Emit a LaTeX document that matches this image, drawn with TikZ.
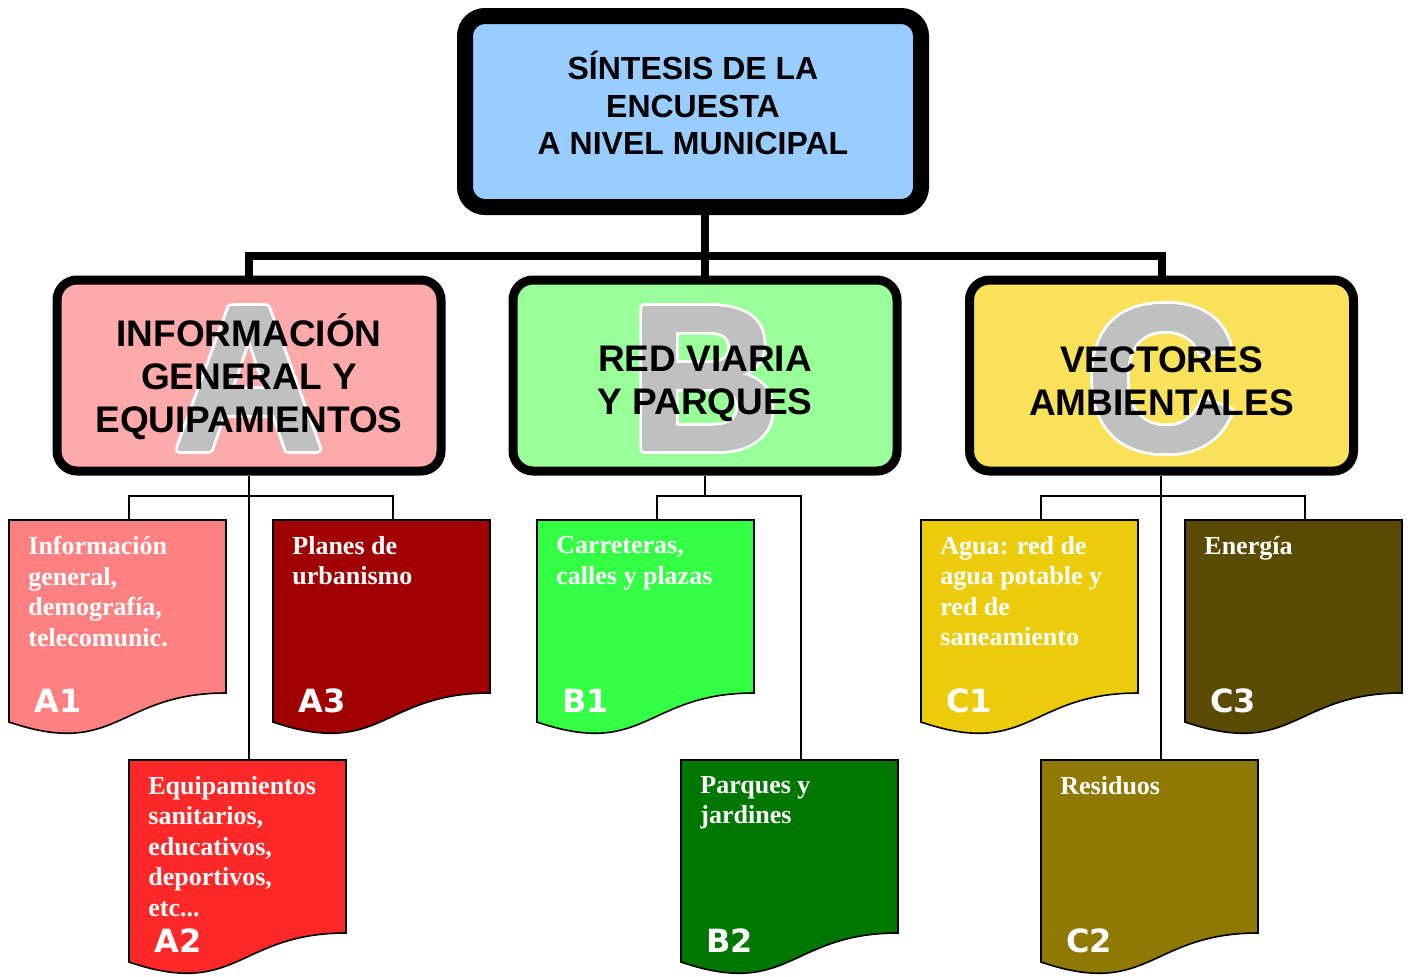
\documentclass[tikz,border=0pt]{standalone}
\usepackage{fontspec}
\setmainfont{Liberation Serif}
\newfontfamily\arialfont{Liberation Sans}
\newfontfamily\blackfont{DejaVu Sans}
\usepackage{contour}
\contournumber{24}
\usetikzlibrary{calc}

\definecolor{topblue}{RGB}{153,204,255}
\definecolor{boxA}{RGB}{255,170,170}
\definecolor{boxB}{RGB}{153,255,153}
\definecolor{boxC}{RGB}{249,225,89}
\definecolor{lettergray}{RGB}{192,192,192}
\definecolor{docAone}{RGB}{255,128,128}
\definecolor{docAtwo}{RGB}{255,40,40}
\definecolor{docAthree}{RGB}{160,0,0}
\definecolor{docBone}{RGB}{51,255,68}
\definecolor{docBtwo}{RGB}{0,119,0}
\definecolor{docCone}{RGB}{236,204,10}
\definecolor{docCtwo}{RGB}{144,120,5}
\definecolor{docCthree}{RGB}{90,74,2}

\begin{document}
\begin{tikzpicture}[x=0.5pt, y=-0.5pt,
  bigbox/.style={draw=black, rounded corners=10pt, line width=4.5pt,
    minimum width=192pt, minimum height=95.5pt, inner sep=0pt},
  boxtext/.style={align=center, inner sep=0pt,
    font=\arialfont\bfseries\fontsize{18.5}{21.5}\selectfont},
  bigletter/.style={anchor=base, inner sep=0pt,
    font=\arialfont\bfseries\fontsize{103}{103}\selectfont},
  trunk/.style={line width=4pt},
  link/.style={line width=1pt},
  doctext/.style={anchor=north west, align=left, inner sep=0pt, text=white,
    font=\bfseries\fontsize{13}{15.25}\selectfont},
  doclabel/.style={anchor=base west, inner sep=0pt, text=white,
    font=\blackfont\bfseries\fontsize{16}{16}\selectfont}]
\useasboundingbox (0,0) rectangle (1408,976);
% top box
\node[draw=black, fill=topblue, rounded corners=10pt, line width=8pt,
  minimum width=228pt, minimum height=95.5pt] (sintesis) at (693,111.5) {};
\node[boxtext, font=\arialfont\bfseries\fontsize{16}{18.75}\selectfont]
  (sintesistxt) at (693,103) {SÍNTESIS DE LA\\ENCUESTA\\A NIVEL MUNICIPAL};
% blocks A, B, C
\foreach \n/\x/\c/\l/\ty/\t in {infoA/249/boxA/A/377/{INFORMACIÓN\\GENERAL Y\\EQUIPAMIENTOS},
    redB/705/boxB/B/383.5/{RED VIARIA\\Y PARQUES},
    vecC/1161.5/boxC/C/381/{VECTORES\\AMBIENTALES}} {
  \node[bigbox, fill=\c] (\n) at (\x,375.5) {};
  \node[bigletter, text=white] (\n-o) at (\x,450)
    {\contourlength{2.3pt}\contour{white}{\l}};
  \node[bigletter, text=lettergray] (\n-l) at (\x,450)
    {\contourlength{0.8pt}\contour{lettergray}{\l}};
  \node[boxtext] (\n-txt) at (\x,\ty) {\t};
}
% thick trunk
\coordinate (bar) at (705,256);
\draw[trunk] (sintesis.south -| redB) -- (redB.north);
\draw[trunk] (infoA.north) |- (bar) -| (vecC.north);
% documents
\foreach \n/\x/\y/\c/\l/\t in {a1/9/520/docAone/A1/{Información\\general,\\demografía,\\telecomunic.},
    a3/273/520/docAthree/A3/{Planes de\\urbanismo},
    a2/129/760/docAtwo/A2/{Equipamientos\\sanitarios,\\educativos,\\deportivos,\\etc...},
    b1/537/520/docBone/B1/{Carreteras,\\calles y plazas},
    b2/681/760/docBtwo/B2/{Parques y\\jardines},
    c1/921/520/docCone/C1/{Agua: red de\\agua potable y\\red de\\saneamiento},
    c3/1185/520/docCthree/C3/{Energía},
    c2/1041/760/docCtwo/C2/{Residuos}} {
  \filldraw[fill=\c, line width=0.8pt] (\x,\y) -- (\x+217,\y) -- (\x+217,\y+173)
    .. controls (\x+108.5,\y+173) and (\x+108.5,\y+239) .. (\x,\y+202) -- cycle;
  \coordinate (\n) at (\x+120,\y);
  \node[doctext] (\n-txt) at (\x+19,\y+16) {\t};
  \node[doclabel] (\n-lab) at (\x+25,\y+192) {\l};
}
% thin links
\coordinate (abar) at (249,496);
\coordinate (bbar) at (705,496);
\coordinate (cbar) at (1161,496);
\draw[link] (infoA.south) -- (a2);
\draw[link] (a1) |- (abar) -| (a3);
\draw[link] (redB.south) -- (bbar);
\draw[link] (b1) |- (bbar) -| (b2);
\draw[link] (vecC.south -| c2) -- (c2);
\draw[link] (c1) |- (cbar) -| (c3);
\end{tikzpicture}
\end{document}
